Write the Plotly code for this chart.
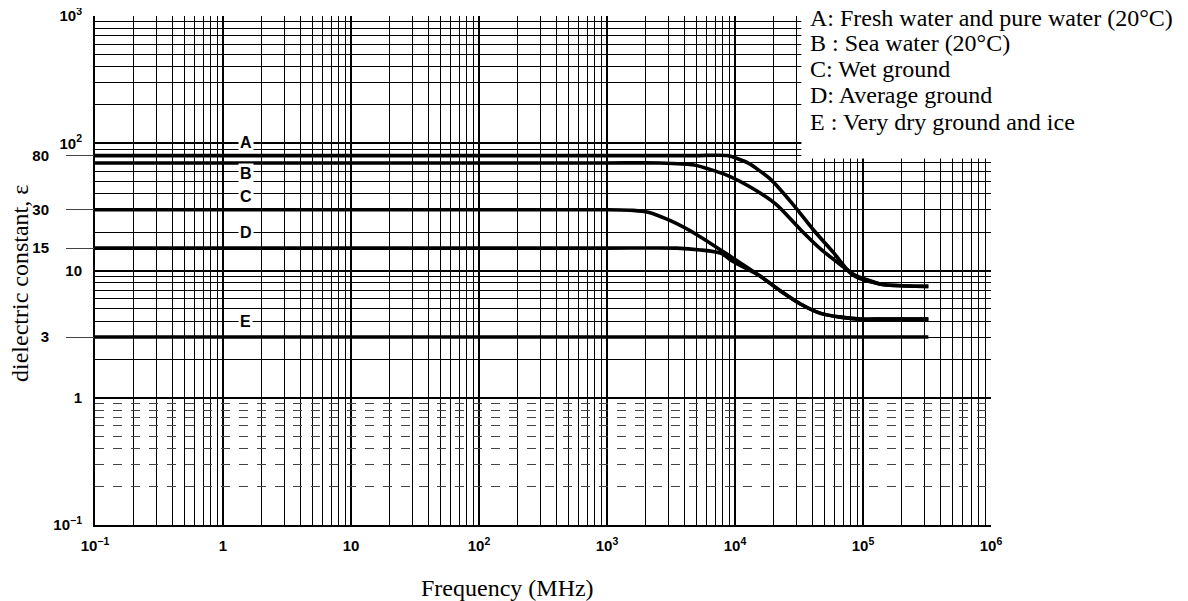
import math
import plotly.graph_objects as go

# ---- data ----
freq_A = [0.1, 1000, 5000, 8700, 12600, 19000, 28800, 40700, 58900, 79400, 95500, 138000, 224000, 324000]
eps_A = [80, 80, 80, 80, 70, 52, 32.5, 21, 13.8, 9.6, 8.6, 7.8, 7.55, 7.5]

freq_B = [0.1, 1000, 2600, 4800, 8700, 14100, 21400, 32400, 46800, 67600, 85100, 138000, 224000, 324000]
eps_B = [70, 70, 70, 67.5, 56, 43.5, 32.5, 21, 14.7, 11, 9.3, 7.8, 7.55, 7.5]

freq_C = [0.1, 1000, 1600, 2100, 3160, 5000, 8700, 15800, 22700, 32500, 46600, 66800, 95700, 138000, 324000]
eps_C = [30, 30, 29.7, 28.7, 24.5, 19.2, 13.4, 9.0, 6.9, 5.45, 4.6, 4.3, 4.15, 4.15, 4.15]

freq_D = [0.1, 1000, 3500, 5370, 7710, 9730, 15800, 22700, 32500, 46600, 66800, 95700, 138000, 324000]
eps_D = [15, 15, 15, 14.5, 13.7, 11.7, 9.0, 6.9, 5.45, 4.6, 4.3, 4.15, 4.15, 4.15]

freq_E = [0.1, 324000]
eps_E = [3, 3]

curve_letters = ["A", "B", "C", "D", "E"]
letter_freq = 1.5
letter_eps = [102, 58, 38, 20, 4]

legend_texts = [
    "A: Fresh water and pure water (20°C)",
    "B : Sea water (20°C)",
    "C: Wet ground",
    "D: Average ground",
    "E : Very dry ground and ice",
]

x_tickvals = [0.1, 1, 10, 100, 1e3, 1e4, 1e5, 1e6]
x_ticktext = ["10<sup>−1</sup>", "1", "10", "10<sup>2</sup>", "10<sup>3</sup>",
              "10<sup>4</sup>", "10<sup>5</sup>", "10<sup>6</sup>"]
y_tickvals = [0.1, 1, 10, 100, 1000]
y_ticktext = ["10<sup>−1</sup>", "1", "10", "10<sup>2</sup>", "10<sup>3</sup>"]
y_extra_ticks = [80, 30, 15, 3]

# ---- figure ----
SANS = "Liberation Sans Narrow, Arial Narrow, Liberation Sans, Arial, sans-serif"
SERIF = "Liberation Serif, Times New Roman, serif"
tickfont = dict(family=SANS, size=15, color="black", weight="bold")

fig = go.Figure()
for fx, fy in [(freq_A, eps_A), (freq_B, eps_B), (freq_C, eps_C), (freq_D, eps_D), (freq_E, eps_E)]:
    fig.add_trace(go.Scatter(x=fx, y=fy, mode="lines",
                             line=dict(color="black", width=3.6, shape="spline", smoothing=0.6),
                             showlegend=False, hoverinfo="skip"))
# empty traces so the overlay axes exist as subplots
fig.add_trace(go.Scatter(x=[], y=[], yaxis="y2", showlegend=False, hoverinfo="skip"))
fig.add_trace(go.Scatter(x=[], y=[], yaxis="y3", showlegend=False, hoverinfo="skip"))

x_minor = [k * 10 ** d for d in range(-1, 6) for k in range(2, 10)]
y_minor = [k * 10 ** d for d in range(0, 3) for k in range(2, 10)]
y_minor_low = [round(k * 0.1, 1) for k in range(2, 10)]

fig.update_layout(
    width=1180, height=593,
    margin=dict(l=87, r=197, t=8, b=76, autoexpand=False),
    paper_bgcolor="white", plot_bgcolor="white",
    xaxis=dict(type="log", range=[-1, 6], tickmode="array", tickvals=x_tickvals, ticktext=x_ticktext,
               tickfont=tickfont, ticks="", ticklabelstandoff=6, ticklabeloverflow="allow", automargin=False,
               showgrid=True, gridcolor="black", gridwidth=2,
               minor=dict(tickmode="array", tickvals=x_minor, showgrid=True, gridcolor="black", gridwidth=1, ticks=""),
               showline=True, mirror=False, linecolor="black", linewidth=2, zeroline=False),
    yaxis=dict(type="log", range=[-1, 3], tickmode="array", tickvals=y_tickvals, ticktext=y_ticktext,
               tickfont=tickfont, ticks="", ticklabelstandoff=8, ticklabeloverflow="allow", automargin=False,
               showgrid=True, gridcolor="black", gridwidth=2,
               minor=dict(tickmode="array", tickvals=y_minor, showgrid=True, gridcolor="black", gridwidth=1, ticks=""),
               showline=True, mirror=False, linecolor="black", linewidth=2, zeroline=False),
    yaxis2=dict(type="log", range=[-1, 3], overlaying="y", side="left", tickmode="array",
                tickvals=y_extra_ticks, ticktext=[str(v) for v in y_extra_ticks], automargin=False,
                tickfont=tickfont, ticks="outside", ticklen=28, tickcolor="#444", tickwidth=1,
                ticklabelstandoff=14, showgrid=False, zeroline=False, showline=False),
    yaxis3=dict(type="log", range=[-1, 3], overlaying="y", side="left", tickmode="array",
                tickvals=y_minor_low, showticklabels=False, ticks="", automargin=False,
                showgrid=True, gridcolor="#444", gridwidth=1, griddash="dash",
                zeroline=False, showline=False),
)

# white area behind the key text (top right)
fig.add_shape(type="rect", xref="x", yref="y", x0=3.3e4, x1=1e7, y0=76, y1=5000,
              fillcolor="white", line=dict(width=0), layer="above")

# curve letters on the chart
for lab, ev in zip(curve_letters, letter_eps):
    fig.add_annotation(x=math.log10(letter_freq), y=math.log10(ev), xref="x", yref="y",
                       text=lab, showarrow=False, bgcolor="white",
                       font=dict(family="Liberation Sans, Arial, sans-serif", size=16, color="black", weight="bold"))

# key text
key_y = [0.996, 0.947, 0.896, 0.845, 0.792]
for txt, ky in zip(legend_texts, key_y):
    fig.add_annotation(x=0.7958, y=ky, xref="paper", yref="paper", xanchor="left", yanchor="middle",
                       text=txt, showarrow=False,
                       font=dict(family=SERIF, size=24, color="black"))

# axis titles
fig.add_annotation(x=-0.084, y=0.475, xref="paper", yref="paper", xanchor="center", yanchor="middle",
                   text="dielectric constant, ε",
                   textangle=-90, showarrow=False, font=dict(family=SERIF, size=24, color="black"))
fig.add_annotation(x=0.46, y=-0.124, xref="paper", yref="paper", xanchor="center", yanchor="middle",
                   text="Frequency (MHz)",
                   showarrow=False, font=dict(family=SERIF, size=24, color="black"))

fig.write_html("out.html")
